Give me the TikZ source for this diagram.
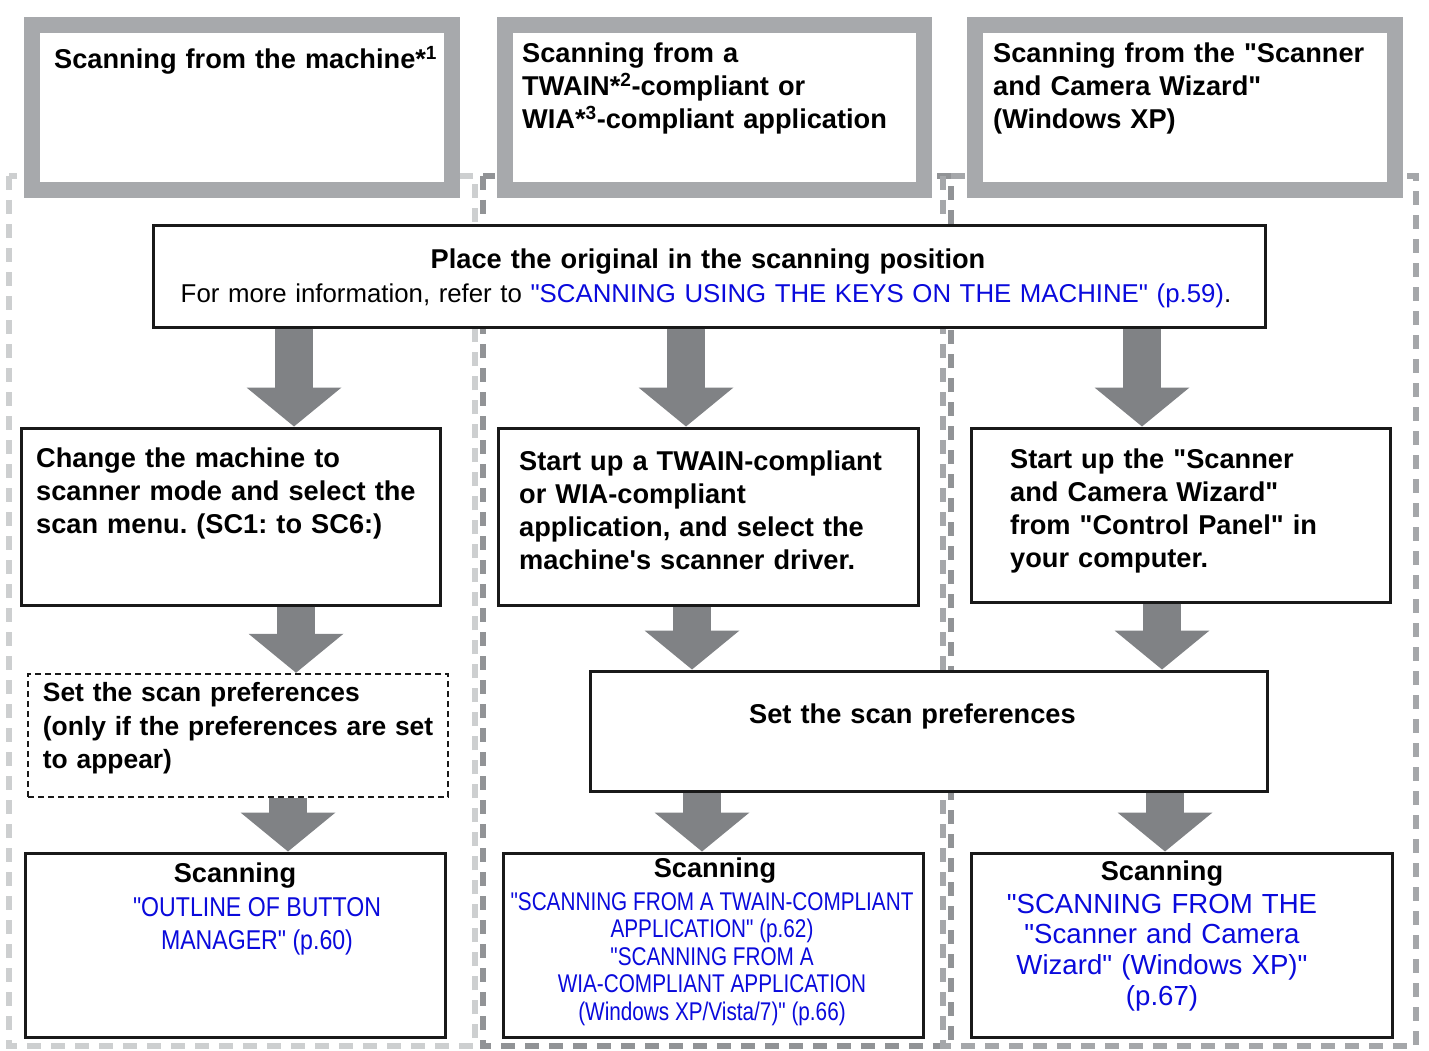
\documentclass[tikz,border=0pt]{standalone}
\usepackage{fontspec}
\setmainfont{Liberation Sans}[Ligatures=TeXOff]
\newfontfamily\narrowfont[FakeStretch=0.81]{Liberation Sans}
\newfontfamily\semifont[FakeStretch=0.85]{Liberation Sans}
\usetikzlibrary{arrows.meta, calc, positioning}
\definecolor{framegray}{RGB}{167,169,172}
\definecolor{arrowgray}{RGB}{128,130,133}
\definecolor{colA}{RGB}{205,207,208}
\definecolor{colB}{RGB}{145,147,150}
\definecolor{colC}{RGB}{165,167,170}
\definecolor{linkblue}{RGB}{10,10,220}
\tikzset{
    box/.style={draw=black!90, line width=3pt, fill=white, inner sep=0pt}, % riquadri dei passi
    dotbox/.style={box, line width=2.5pt, dash pattern=on 6pt off 4pt},
    header/.style={draw=framegray, line width=16pt, fill=white, minimum width=420pt, minimum height=165pt, inner sep=0pt},
    column/.style={line width=5.5pt, dash pattern=on 14pt off 10pt},
    blk/.style={arrowgray, line width=38pt, -{Triangle[width=95pt, length=39pt, line width=0pt]}},
    boldtext/.style={font=\fontsize{27.2}{33}\selectfont\bfseries, text width=480pt, align=left, inner sep=0pt, anchor=base west},
    plaintext/.style={font=\fontsize{25.8}{33}\selectfont, text width=1300pt, align=center, inner sep=0pt, anchor=base},
    linktext/.style={font=\fontsize{27.6}{31}\selectfont, text=linkblue, text width=440pt, align=center, inner sep=0pt, anchor=base},
}

\begin{document}
\frenchspacing
\begin{tikzpicture}[x=1pt, y=-1pt]
    \useasboundingbox (0,0) rectangle (1429,1051);

    % Colonne
    \draw[column, draw=colA] (9,176) rectangle (475,1046);
    \draw[column, draw=colB] (483,176) rectangle (951,1046);
    \draw[column, draw=colC] (943,176) rectangle (1416,1046);

    % Intestazioni
    \node[header] (hd1) at (242,107.5) {};
    \node[header, minimum width=419pt] (hd2) at (714.5,107.5) {};
    \node[header] (hd3) at (1185,107.5) {};
    \node[boldtext] at ($(hd1.north west)+(30,52)$) {Scanning from the machine*\textsuperscript{1}};
    \node[boldtext] at ($(hd2.north west)+(25,46)$) {Scanning from a\\TWAIN*\textsuperscript{2}-compliant or\\WIA*\textsuperscript{3}-compliant application};
    \node[boldtext] at ($(hd3.north west)+(26,46)$) {Scanning from the "Scanner\\and Camera Wizard"\\(Windows XP)};

    % Passi
    \node[box, minimum width=1112pt, minimum height=102pt] (place) at (709,276) {};
    \node[box, minimum width=419pt, minimum height=177pt] (chg) at (230.5,516.5) {};
    \node[box, minimum width=420pt, minimum height=177pt] (wia) at (708,516.5) {};
    \node[box, minimum width=419pt, minimum height=174pt] (wiz) at (1180.5,515) {};
    \node[dotbox, minimum width=420pt, minimum height=123pt] (pref) at (238,735.5) {};
    \node[box, minimum width=677pt, minimum height=120pt] (setb) at (928.5,731) {};
    \node[box, minimum width=420pt, minimum height=184pt] (scan1) at (235,945) {};
    \node[box, minimum width=420pt, minimum height=184pt] (scan2) at (713,945) {};
    \node[box, minimum width=421pt, minimum height=184pt] (scan3) at (1181.5,945) {};

    % Testi
    \node[boldtext, anchor=base, align=center, text width=1100pt] at ($(place.north)+(-1,44.5)$) {Place the original in the scanning position};
    \node[plaintext] at ($(place.north)+(-3,78.5)$) {For more information, refer to \textcolor{linkblue}{"SCANNING USING THE KEYS ON THE MACHINE" (p.59)}.};
    \node[boldtext] at ($(chg.north west)+(16.5,40.5)$) {Change the machine to\\scanner mode and select the\\scan menu. (SC1: to SC6:)};
    \node[boldtext] at ($(wia.north west)+(22.5,43.5)$) {Start up a TWAIN-compliant\\or WIA-compliant\\application, and select the\\machine's scanner driver.};
    \node[boldtext] at ($(wiz.north west)+(40.5,41.5)$) {Start up the "Scanner\\and Camera Wizard"\\from "Control Panel" in\\your computer.};
    \node[boldtext, font=\fontsize{26.4}{33.5}\selectfont\bfseries] at ($(pref.north west)+(16,29)$) {Set the scan preferences\\(only if the preferences are set\\to appear)};
    \node[boldtext] at ($(setb.north west)+(160.5,53.5)$) {Set the scan preferences};
    \node[boldtext, anchor=base, align=center, text width=400pt] at ($(scan1.north)+(0,30.5)$) {Scanning};
    \node[linktext, align=flush center, font=\semifont\fontsize{27.2}{33}\selectfont] at ($(scan1.north)+(22,64.5)$) {"OUTLINE OF BUTTON\\MANAGER" (p.60)};
    \node[boldtext, anchor=base, align=center, text width=400pt] at ($(scan2.north)+(2,25.5)$) {Scanning};
    \node[linktext, align=flush center, font=\narrowfont\fontsize{25.6}{27.5}\selectfont] at ($(scan2.north)+(-1,58.5)$) {"SCANNING FROM A TWAIN-COMPLIANT\\APPLICATION" (p.62)\\"SCANNING FROM A\\WIA-COMPLIANT APPLICATION\\(Windows XP/Vista/7)" (p.66)};
    \node[boldtext, anchor=base, align=center, text width=400pt] at ($(scan3.north)+(-19.5,28.5)$) {Scanning};
    \node[linktext, font=\fontsize{27.6}{30.7}\selectfont] at ($(scan3.north)+(-19.5,61.5)$) {"SCANNING FROM THE\\"Scanner and Camera\\Wizard" (Windows XP)"\\(p.67)};

    % Frecce
    \draw[blk] (place.south -| 294,0) -- (chg.north -| 294,0);
    \draw[blk] (chg.south -| 296,0) -- (pref.north -| 296,0);
    \draw[blk] (pref.south -| 288,0) -- (scan1.north -| 288,0);
    \draw[blk] (place.south -| 686,0) -- (wia.north -| 686,0);
    \draw[blk] (wia.south -| 692,0) -- (setb.north -| 692,0);
    \draw[blk] (setb.south -| 702,0) -- (scan2.north -| 702,0);
    \draw[blk] (place.south -| 1142,0) -- (wiz.north -| 1142,0);
    \draw[blk] (wiz.south -| 1162,0) -- (setb.north -| 1162,0);
    \draw[blk] (setb.south -| 1165,0) -- (scan3.north -| 1165,0);
\end{tikzpicture}
\end{document}
